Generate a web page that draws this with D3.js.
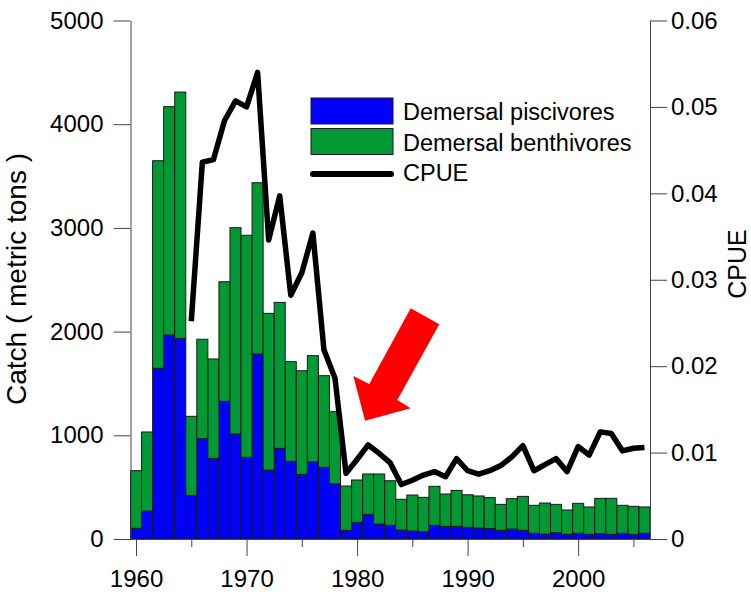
<!DOCTYPE html>
<html>
<head>
<meta charset="utf-8">
<script src="https://cdn.jsdelivr.net/npm/d3@7/dist/d3.min.js"></script>
<style>
  body { margin: 0; background: #fff; }
  svg { display: block; font-family: "Liberation Sans", Arial, sans-serif; }
</style>
</head>
<body>
<svg id="chart" width="751" height="592"></svg>
<script>
// Catch by year (metric tons) and CPUE
const years = [1960, 1961, 1962, 1963, 1964, 1965, 1966, 1967, 1968, 1969,
  1970, 1971, 1972, 1973, 1974, 1975, 1976, 1977, 1978, 1979,
  1980, 1981, 1982, 1983, 1984, 1985, 1986, 1987, 1988, 1989,
  1990, 1991, 1992, 1993, 1994, 1995, 1996, 1997, 1998, 1999,
  2000, 2001, 2002, 2003, 2004, 2005, 2006];

const piscivores = [103, 270, 1646, 1967, 1935, 421, 967, 778, 1328, 1013,
  788, 1784, 665, 874, 749, 624, 746, 691, 533, 83,
  161, 238, 145, 132, 87, 77, 71, 132, 122, 122,
  113, 106, 100, 84, 96, 84, 55, 48, 61, 45,
  55, 45, 51, 45, 55, 45, 55];

const benthivores = [556, 762, 2002, 2202, 2375, 762, 959, 958, 1153, 1989,
  2141, 1652, 1511, 1408, 961, 999, 1022, 884, 695, 428,
  408, 389, 482, 430, 296, 347, 331, 376, 312, 347,
  314, 309, 299, 250, 293, 327, 270, 299, 273, 235,
  289, 264, 341, 347, 270, 270, 254];

const cpueYears = [1965, 1966, 1967, 1968, 1969, 1970, 1971, 1972, 1973, 1974,
  1975, 1976, 1977, 1978, 1979, 1980, 1981, 1982, 1983, 1984,
  1985, 1986, 1987, 1988, 1989, 1990, 1991, 1992, 1993, 1994,
  1995, 1996, 1997, 1998, 1999, 2000, 2001, 2002, 2003, 2004,
  2005, 2006];

const cpue = [0.0252, 0.0436, 0.0439, 0.0484, 0.0507, 0.0500, 0.0540, 0.0346, 0.0397, 0.0282,
  0.0308, 0.0354, 0.0219, 0.0186, 0.0076, 0.0092, 0.0109, 0.0099, 0.0088, 0.0063,
  0.0068, 0.0074, 0.0078, 0.0072, 0.0093, 0.0079, 0.0075, 0.0079, 0.0085, 0.0095,
  0.0108, 0.0079, 0.0086, 0.0093, 0.0078, 0.0107, 0.0097, 0.0124, 0.0122, 0.0102,
  0.0105, 0.0106];

const catchTicks = [0, 1000, 2000, 3000, 4000, 5000];
const cpueTicks = [0, 0.01, 0.02, 0.03, 0.04, 0.05, 0.06];
const yearLabels = [1960, 1970, 1980, 1990, 2000];
const yearMinor = [1965, 1975, 1985, 1995, 2005];

// arrow annotation in data units [year, catch]
const arrowShape = [[1980.72, 1141], [1979.66, 1572], [1981.10, 1495], [1984.85, 2225],
  [1987.44, 2070], [1983.64, 1340], [1984.85, 1260]];

const COLORS = { pisc: '#0000ff', benth: '#009933', outline: '#1a1a1a', axis: '#444', arrow: '#ff0000' };

const margin = { top: 20.5, right: 101, bottom: 53, left: 130.5 };
const width = 751, height = 592;

const svg = d3.select('#chart');

const x = d3.scaleLinear()
  .domain([1959.5, 2006.5])
  .range([margin.left, width - margin.right]);

const yL = d3.scaleLinear()
  .domain([0, 5000])
  .range([height - margin.bottom, margin.top]);

const yR = d3.scaleLinear()
  .domain([0, 0.06])
  .range([height - margin.bottom, margin.top]);

const bw = x(1) - x(0);

// Stacked bars
const rows = years.map((yr, i) => ({ year: yr, pisc: piscivores[i], benth: benthivores[i] }));
const stack = d3.stack().keys(['pisc', 'benth'])(rows);

svg.append('g')
  .selectAll('g')
  .data(stack)
  .join('g')
  .attr('fill', (d) => COLORS[d.key])
  .selectAll('rect')
  .data((d) => d)
  .join('rect')
  .attr('x', (d) => x(d.data.year - 0.5))
  .attr('width', bw)
  .attr('y', (d) => yL(d[1]))
  .attr('height', (d) => yL(d[0]) - yL(d[1]))
  .attr('stroke', COLORS.outline)
  .attr('stroke-width', 1);

// Axes
const fontSize = 24;

const leftAxis = svg.append('g')
  .attr('transform', `translate(${margin.left},0)`)
  .call(d3.axisLeft(yL).tickValues(catchTicks).tickSize(17).tickPadding(10).tickSizeOuter(0)
    .tickFormat(d3.format('d')));
leftAxis.selectAll('text').attr('font-size', fontSize).attr('fill', '#000');

const rightAxis = svg.append('g')
  .attr('transform', `translate(${width - margin.right},0)`)
  .call(d3.axisRight(yR).tickValues(cpueTicks).tickSize(17).tickPadding(4).tickSizeOuter(0)
    .tickFormat((d) => (d === 0 ? '0' : d3.format('.2f')(d))));
rightAxis.selectAll('text').attr('font-size', fontSize).attr('fill', '#000');

const bottomAxis = svg.append('g')
  .attr('transform', `translate(0,${height - margin.bottom})`)
  .call(d3.axisBottom(x).tickValues(yearLabels).tickSize(17).tickPadding(14).tickSizeOuter(0)
    .tickFormat(d3.format('d')));
bottomAxis.selectAll('text').attr('font-size', fontSize).attr('fill', '#000');

svg.append('g')
  .attr('transform', `translate(0,${height - margin.bottom})`)
  .call(d3.axisBottom(x).tickValues(yearMinor).tickSize(8).tickFormat('').tickSizeOuter(0))
  .select('.domain').remove();

svg.selectAll('.domain').attr('stroke', COLORS.axis);
svg.selectAll('.tick line').attr('stroke', COLORS.axis);

// CPUE line
const line = d3.line()
  .x((d) => x(d[0]))
  .y((d) => yR(d[1]));

svg.append('path')
  .datum(cpueYears.map((yr, i) => [yr, cpue[i]]))
  .attr('fill', 'none')
  .attr('stroke', '#000')
  .attr('stroke-width', 5.5)
  .attr('stroke-linejoin', 'round')
  .attr('d', line);

// Red arrow
svg.append('path')
  .datum(arrowShape)
  .attr('fill', COLORS.arrow)
  .attr('d', (d) => d3.line().x((p) => x(p[0])).y((p) => yL(p[1]))(d) + 'Z');

// Axis titles
svg.append('text')
  .attr('transform', 'translate(26,279) rotate(-90)')
  .attr('text-anchor', 'middle')
  .attr('font-size', 28)
  .text('Catch ( metric tons )');

svg.append('text')
  .attr('transform', 'translate(746,264) rotate(-90)')
  .attr('text-anchor', 'middle')
  .attr('font-size', 25)
  .text('CPUE');

// Legend
const legend = svg.append('g').attr('transform', 'translate(311,98)');
const legendItems = [
  { label: 'Demersal piscivores', type: 'rect', color: COLORS.pisc },
  { label: 'Demersal benthivores', type: 'rect', color: COLORS.benth },
  { label: 'CPUE', type: 'line', color: '#000' }
];

legendItems.forEach((item, i) => {
  const gy = i * 30.5;
  if (item.type === 'rect') {
    legend.append('rect')
      .attr('x', 0).attr('y', gy)
      .attr('width', 82).attr('height', 26)
      .attr('fill', item.color)
      .attr('stroke', COLORS.outline)
      .attr('stroke-width', 1);
  } else {
    legend.append('line')
      .attr('x1', 2).attr('x2', 80)
      .attr('y1', gy + 15).attr('y2', gy + 15)
      .attr('stroke', item.color)
      .attr('stroke-width', 6)
      .attr('stroke-linecap', 'round');
  }
  legend.append('text')
    .attr('x', 92)
    .attr('y', gy + 22)
    .attr('font-size', 23.5)
    .text(item.label);
});
</script>
</body>
</html>
